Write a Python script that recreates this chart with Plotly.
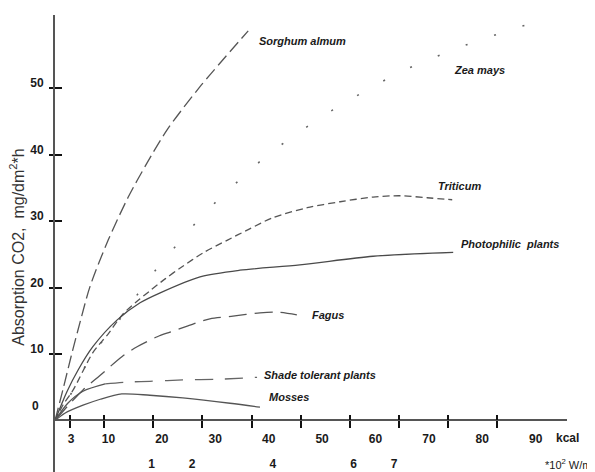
import plotly.graph_objects as go

# ---------------- data (x: kcal, y: absorption CO2 mg/dm2*h) ----------------
sorghum_x = [0, 1.6, 3.3, 5.1, 7.1, 10.8, 14.9, 18.7, 22.8, 29.5, 39.3]
sorghum_y = [0, 4.6, 9.7, 14.8, 20.1, 27.1, 33.6, 38.7, 43.7, 50.2, 58.6]

zea_x = [0, 3.7, 7.7, 11.2, 14.2, 17.9, 21.6, 25.6, 29.9, 34.2, 38.9, 43.5,
         48.6, 53.9, 59.2, 64.7, 70.2, 75.9, 81.8, 87.7, 93.6, 99.5]
zea_y = [0, 4.6, 10.2, 13.2, 16.3, 20.1, 23.7, 27.1, 30.8, 33.9, 37.1, 40.1,
         42.8, 45.5, 47.9, 50.2, 52.4, 54.2, 56.0, 57.5, 59.0, 60.2]

triticum_x = [0, 1.6, 3.7, 7.7, 10.8, 13.8, 17.3, 19.3, 22.4, 25.4, 30.1, 35.0,
              39.3, 44.3, 51.3, 58.0, 64.7, 70.2, 75.7, 80.8]
triticum_y = [0, 2.3, 4.6, 10.2, 13.0, 16.0, 18.3, 19.5, 21.3, 22.9, 25.2, 27.1,
              28.7, 30.5, 32.0, 32.9, 33.6, 33.8, 33.5, 33.2]

photo_x = [0, 2.4, 4.7, 7.7, 12.6, 17.3, 21.4, 29.5, 37.6, 49.8, 64.7, 81.0]
photo_y = [0, 4.3, 7.6, 11.1, 15.1, 17.7, 19.2, 21.6, 22.6, 23.4, 24.7, 25.3]

fagus_x = [0, 2.6, 5.7, 9.2, 13.6, 16.7, 20.8, 23.4, 26.9, 31.5, 36.2, 41.7, 45.2, 49.2]
fagus_y = [0, 2.2, 4.6, 6.8, 9.6, 11.1, 12.6, 13.3, 14.2, 15.3, 15.7, 16.2, 16.3, 15.9]

shade_x = [0, 2.6, 5.7, 10.2, 15.3, 19.3, 26.0, 33.0, 41.1]
shade_y = [0, 2.6, 4.4, 5.5, 5.8, 5.9, 6.1, 6.2, 6.5]
shade_solid_until = 4  # first points drawn solid, rest dashed

moss_x = [0, 2.0, 5.7, 9.2, 13.6, 19.3, 26.0, 35.6, 41.7]
moss_y = [0, 1.1, 2.3, 3.2, 4.0, 3.8, 3.4, 2.6, 2.0]

kcal_ticks = [3, 10, 20, 30, 40, 50, 60, 70, 80, 90]
kcal_labels = [str(v) for v in kcal_ticks]
wm2_ticks = [1, 2, 4, 6, 7]
wm2_labels = [str(v) for v in wm2_ticks]
y_ticks = [10, 20, 30, 40, 50]
y_labels = [str(v) for v in y_ticks]

FONT = "Liberation Sans, Arial, sans-serif"
LINE = "#5a5a5a"

fig = go.Figure()


def add(x, y, dash, color=LINE, width=1.3):
    fig.add_trace(go.Scatter(x=x, y=y, mode="lines",
                             line=dict(shape="spline", smoothing=0.8, dash=dash,
                                       color=color, width=width),
                             hoverinfo="skip", showlegend=False))


add(sorghum_x, sorghum_y, "13px,5px", "#555")
add(zea_x, zea_y, "2px,28px", "#666", 1.6)
add(triticum_x, triticum_y, "7px,4px", "#555")
add(photo_x, photo_y, "solid", "#4a4a4a")
add(fagus_x, fagus_y, "18px,8px", "#555")
add(shade_x[:shade_solid_until], shade_y[:shade_solid_until], "solid", "#555")
add(shade_x[shade_solid_until - 1:], shade_y[shade_solid_until - 1:], "18px,12px", "#666")
add(moss_x, moss_y, "solid", "#555")

# empty traces so that the helper axes are created
fig.add_trace(go.Scatter(x=[], y=[], xaxis="x2", showlegend=False))
fig.add_trace(go.Scatter(x=[], y=[], xaxis="x3", showlegend=False))
fig.add_trace(go.Scatter(x=[], y=[], xaxis="x4", showlegend=False))
fig.add_trace(go.Scatter(x=[], y=[], yaxis="y2", showlegend=False))

XPOS = 0.1127
tickfont = dict(family=FONT, size=12, color="#1a1a1a", weight="bold")

# the page body has an 8px margin, so the figure is drawn 8px smaller
fig.update_layout(
    width=587, height=464,
    margin=dict(l=47, r=28, t=7, b=0, autoexpand=False),
    paper_bgcolor="white", plot_bgcolor="white",
    xaxis=dict(range=[0, 104.15], anchor="free", position=XPOS, automargin=False,
               showline=True, linecolor="#555", linewidth=2,
               ticks="outside", ticklen=7, tickwidth=2, tickcolor="#111",
               tickvals=kcal_ticks, showticklabels=False,
               showgrid=False, zeroline=False),
    xaxis4=dict(range=[0, 104.15], overlaying="x", anchor="free", position=XPOS,
                automargin=False,
                showline=False, ticks="inside", ticklen=5, tickwidth=2,
                tickcolor="#111", tickvals=kcal_ticks, showticklabels=False,
                showgrid=False, zeroline=False),
    xaxis2=dict(range=[0, 95.86], overlaying="x", anchor="free", position=XPOS,
                automargin=False,
                showline=False, ticks="", tickvals=kcal_ticks, ticktext=kcal_labels,
                tickfont=tickfont, ticklabelstandoff=10,
                showgrid=False, zeroline=False),
    xaxis3=dict(range=[-1.39, 11.28], overlaying="x", anchor="free", position=0.038,
                automargin=False,
                showline=False, ticks="", tickvals=wm2_ticks, ticktext=wm2_labels,
                tickfont=tickfont, showgrid=False, zeroline=False),
    yaxis=dict(range=[-7.74, 60.98], anchor="x", showline=True, linecolor="#555",
               automargin=False,
               linewidth=2, ticks="outside", ticklen=4, tickwidth=2, tickcolor="#111",
               tickvals=y_ticks, ticktext=y_labels, tickfont=tickfont,
               ticklabelshift=-5, ticklabelstandoff=3,
               showgrid=False, zeroline=False),
    yaxis2=dict(range=[-7.74, 60.98], overlaying="y", anchor="x", side="left",
                automargin=False,
                showline=False, ticks="inside", ticklen=7, tickwidth=2,
                tickcolor="#111", tickvals=y_ticks, showticklabels=False,
                showgrid=False, zeroline=False),
)

lab_font = dict(family=FONT, size=11, color="#1a1a1a")
labels = [
    ("Sorghum almum", 41.1, 57.1),
    ("Zea mays", 80.8, 52.7),
    ("Triticum", 77.5, 35.3),
    ("Photophilic&nbsp; plants", 82.2, 26.5),
    ("Fagus", 51.9, 15.9),
    ("Shade tolerant plants", 42.1, 6.8),
    ("Mosses", 43.1, 3.5),
]
for text, x, y in labels:
    fig.add_annotation(x=x, y=y, xref="x", yref="y", text=f"<b><i>{text}</i></b>",
                       showarrow=False, xanchor="left", yanchor="middle", font=lab_font)

fig.add_annotation(x=0, y=2.2, xref="x", yref="y", xshift=-20, text="<b>0</b>",
                   showarrow=False, xanchor="center", yanchor="middle",
                   font=dict(family=FONT, size=12, color="#1a1a1a"))
fig.add_annotation(x=0.9746, y=-2.6, xref="paper", yref="y", text="<b>kcal</b>",
                   showarrow=False, xanchor="left", yanchor="middle",
                   font=dict(family=FONT, size=12, color="#1a1a1a"))
fig.add_annotation(x=0.953, y=-6.5, xref="paper", yref="y",
                   text="*10<sup>2</sup> W/m<sup>2</sup>",
                   showarrow=False, xanchor="left", yanchor="middle",
                   font=dict(family=FONT, size=11, color="#1a1a1a"))
fig.add_annotation(x=-0.074, y=26.0, xref="paper", yref="y",
                   text="Absorption CO2,  mg/dm<sup>2</sup>*h", textangle=-90,
                   showarrow=False, xanchor="center", yanchor="middle",
                   font=dict(family=FONT, size=16, color="#333"))

fig.write_html("out.html")
